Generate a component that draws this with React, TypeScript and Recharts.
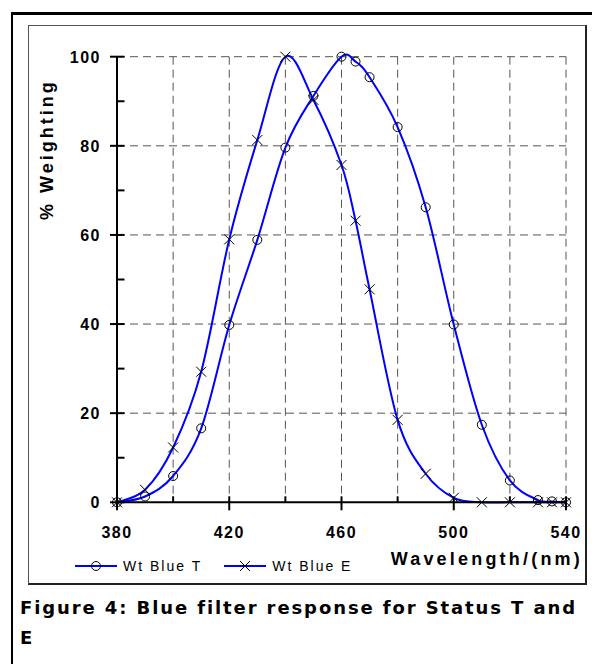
import { LineChart, Line, XAxis, YAxis, CartesianGrid, Legend, Label } from 'recharts'

// wavelength (nm) and % weighting
const wavelengths = [380, 390, 400, 410, 420, 430, 440, 450, 460, 465, 470, 480, 490, 500, 510, 520, 530, 535, 540]
const blueT = [0, 1.3, 5.9, 16.6, 39.8, 58.9, 79.6, 91.2, 100, 98.9, 95.4, 84.2, 66.2, 39.9, 17.4, 4.9, 0.5, 0.2, 0]
const blueE = [0, 2.8, 12.3, 29.3, 59.0, 81.3, 100, 90.3, 75.7, 63.2, 47.8, 18.5, 6.4, 1.0, 0, 0, 0, 0, 0]

const xTicks = [380, 400, 420, 440, 460, 480, 500, 520, 540]
const xLabels = [380, 420, 460, 500, 540]
const yTicks = [0, 10, 20, 30, 40, 50, 60, 70, 80, 90, 100]
const yLabels = [0, 20, 40, 60, 80, 100]
const yGrid = [20, 40, 60, 80, 100]
const seriesOrder = ['t', 'e']

const data = wavelengths.map((nm, i) => ({ nm, t: blueT[i], e: blueE[i] }))

const BLUE = '#0000ff'
const FONT = '"Liberation Sans", Arial, sans-serif'

// Excel-style smoothed line (Catmull-Rom through the points)
function excelCurve(context: any) {
  let pts: number[][] = []
  return {
    areaStart() {},
    areaEnd() {},
    lineStart() {
      pts = []
    },
    point(x: number, y: number) {
      pts.push([+x, +y])
    },
    lineEnd() {
      if (!pts.length) return
      context.moveTo(pts[0][0], pts[0][1])
      for (let i = 0; i < pts.length - 1; i++) {
        const p0 = pts[i - 1] || pts[i]
        const p1 = pts[i]
        const p2 = pts[i + 1]
        const p3 = pts[i + 2] || p2
        context.bezierCurveTo(
          p1[0] + (p2[0] - p0[0]) / 6,
          p1[1] + (p2[1] - p0[1]) / 6,
          p2[0] - (p3[0] - p1[0]) / 6,
          p2[1] - (p3[1] - p1[1]) / 6,
          p2[0],
          p2[1]
        )
      }
    },
  }
}

const CircleMark = ({ cx, cy }: any) => <circle cx={cx} cy={cy} r={4.5} fill="none" stroke="#000" strokeWidth={1} />

const CrossMark = ({ cx, cy }: any) => (
  <path d={`M${cx - 5},${cy - 5}L${cx + 5},${cy + 5}M${cx - 5},${cy + 5}L${cx + 5},${cy - 5}`} stroke="#000" strokeWidth={1} fill="none" />
)

function XTick({ x, y, payload }: any) {
  const major = xLabels.includes(payload.value)
  return (
    <g>
      <line x1={x} x2={x} y1={y - 6} y2={major ? y + 8 : y} stroke="#000" strokeWidth={2} />
      {major && (
        <text x={x} y={y + 36} textAnchor="middle" fontFamily={FONT} fontWeight="bold" fontSize={16} letterSpacing={1.5} fill="#000">
          {payload.value}
        </text>
      )}
    </g>
  )
}

function YTick({ x, y, payload }: any) {
  const major = yLabels.includes(payload.value)
  return (
    <g>
      <line x1={major ? x - 7 : x} x2={x + 7.5} y1={y} y2={y} stroke="#000" strokeWidth={2} />
      {major && (
        <text x={x - 16} y={y + 5.8} textAnchor="end" fontFamily={FONT} fontWeight="bold" fontSize={16} letterSpacing={1.5} fill="#000">
          {payload.value}
        </text>
      )}
    </g>
  )
}

function LegendBox({ payload }: any) {
  const items = [...(payload || [])].sort((a: any, b: any) => seriesOrder.indexOf(a.dataKey) - seriesOrder.indexOf(b.dataKey))
  return (
    <div style={{ display: 'flex', fontFamily: FONT, fontSize: 14, letterSpacing: 2, color: '#000' }}>
      {items.map((p: any) => (
        <div key={p.value} style={{ display: 'flex', alignItems: 'center', marginRight: 22 }}>
          <svg width={44} height={14} style={{ marginRight: 4 }}>
            <line x1={0} x2={42} y1={7} y2={7} stroke={BLUE} strokeWidth={2} />
            {p.dataKey === 't' ? <CircleMark cx={21} cy={7} /> : <CrossMark cx={21} cy={7} />}
          </svg>
          <span>{p.value}</span>
        </div>
      ))}
    </div>
  )
}

export default function App() {
  return (
    <div style={{ position: 'absolute', left: 0, top: 0, width: 592, height: 664, overflow: 'hidden', background: '#fff' }}>
      <div style={{ position: 'absolute', left: 11, top: 12, width: 640, height: 720, borderTop: '3px solid #000', borderLeft: '2.5px solid #000' }} />
      <div
        style={{
          position: 'absolute',
          left: 28,
          top: 25,
          width: 556,
          height: 557,
          borderTop: '1px solid #555',
          borderLeft: '1px solid #555',
          borderRight: '2px solid #222',
          borderBottom: '2px solid #222',
        }}
      />
      <div style={{ position: 'absolute', left: 0, top: 0 }}>
        <LineChart width={592} height={600} data={data} margin={{ top: 56.7, right: 26, bottom: 67.7, left: 57 }}>
          <CartesianGrid stroke="#555" strokeDasharray="8 5" horizontalValues={yGrid} verticalValues={xTicks} />
          <XAxis
            dataKey="nm"
            type="number"
            domain={[380, 540]}
            ticks={xTicks}
            interval={0}
            height={30}
            tickSize={0}
            tickMargin={0}
            tickLine={false}
            tick={<XTick />}
            axisLine={{ stroke: '#000', strokeWidth: 2 }}
          >
            <Label
              content={({ viewBox }: any) => (
                <text x={viewBox.x + viewBox.width + 17} y={viewBox.y + 63} textAnchor="end" fontFamily={FONT} fontWeight="bold" fontSize={18} letterSpacing={3.2} fill="#000">
                  Wavelength/(nm)
                </text>
              )}
            />
          </XAxis>
          <YAxis
            type="number"
            domain={[0, 100]}
            ticks={yTicks}
            interval={0}
            width={60}
            tickSize={0}
            tickMargin={0}
            tickLine={false}
            tick={<YTick />}
            axisLine={{ stroke: '#000', strokeWidth: 2 }}
          >
            <Label
              content={({ viewBox }: any) => (
                <text
                  transform={`translate(${viewBox.x - 4}, ${viewBox.y + 93}) rotate(-90)`}
                  textAnchor="middle"
                  fontFamily={FONT}
                  fontWeight="bold"
                  fontSize={18}
                  letterSpacing={3}
                  fill="#000"
                >
                  % Weighting
                </text>
              )}
            />
          </YAxis>
          <Legend
            layout="horizontal"
            verticalAlign="middle"
            align="center"
            wrapperStyle={{ left: 75, top: 558, width: 320 }}
            content={<LegendBox />}
          />
          <Line
            dataKey="t"
            name="Wt Blue T"
            type={excelCurve as any}
            stroke={BLUE}
            strokeWidth={2}
            dot={(p: any) => <CircleMark key={`t-${p.index}`} cx={p.cx} cy={p.cy} />}
            activeDot={false}
            isAnimationActive={false}
          />
          <Line
            dataKey="e"
            name="Wt Blue E"
            type={excelCurve as any}
            stroke={BLUE}
            strokeWidth={2}
            dot={(p: any) => <CrossMark key={`e-${p.index}`} cx={p.cx} cy={p.cy} />}
            activeDot={false}
            isAnimationActive={false}
          />
        </LineChart>
      </div>
      <div
        style={{
          position: 'absolute',
          left: 20,
          top: 593,
          fontFamily: '"DejaVu Sans", sans-serif',
          fontWeight: 'bold',
          fontSize: 18,
          letterSpacing: 1.9,
          lineHeight: '30px',
          color: '#000',
          whiteSpace: 'nowrap',
        }}
      >
        Figure 4: Blue filter response for Status T and
        <br />E
      </div>
    </div>
  )
}
